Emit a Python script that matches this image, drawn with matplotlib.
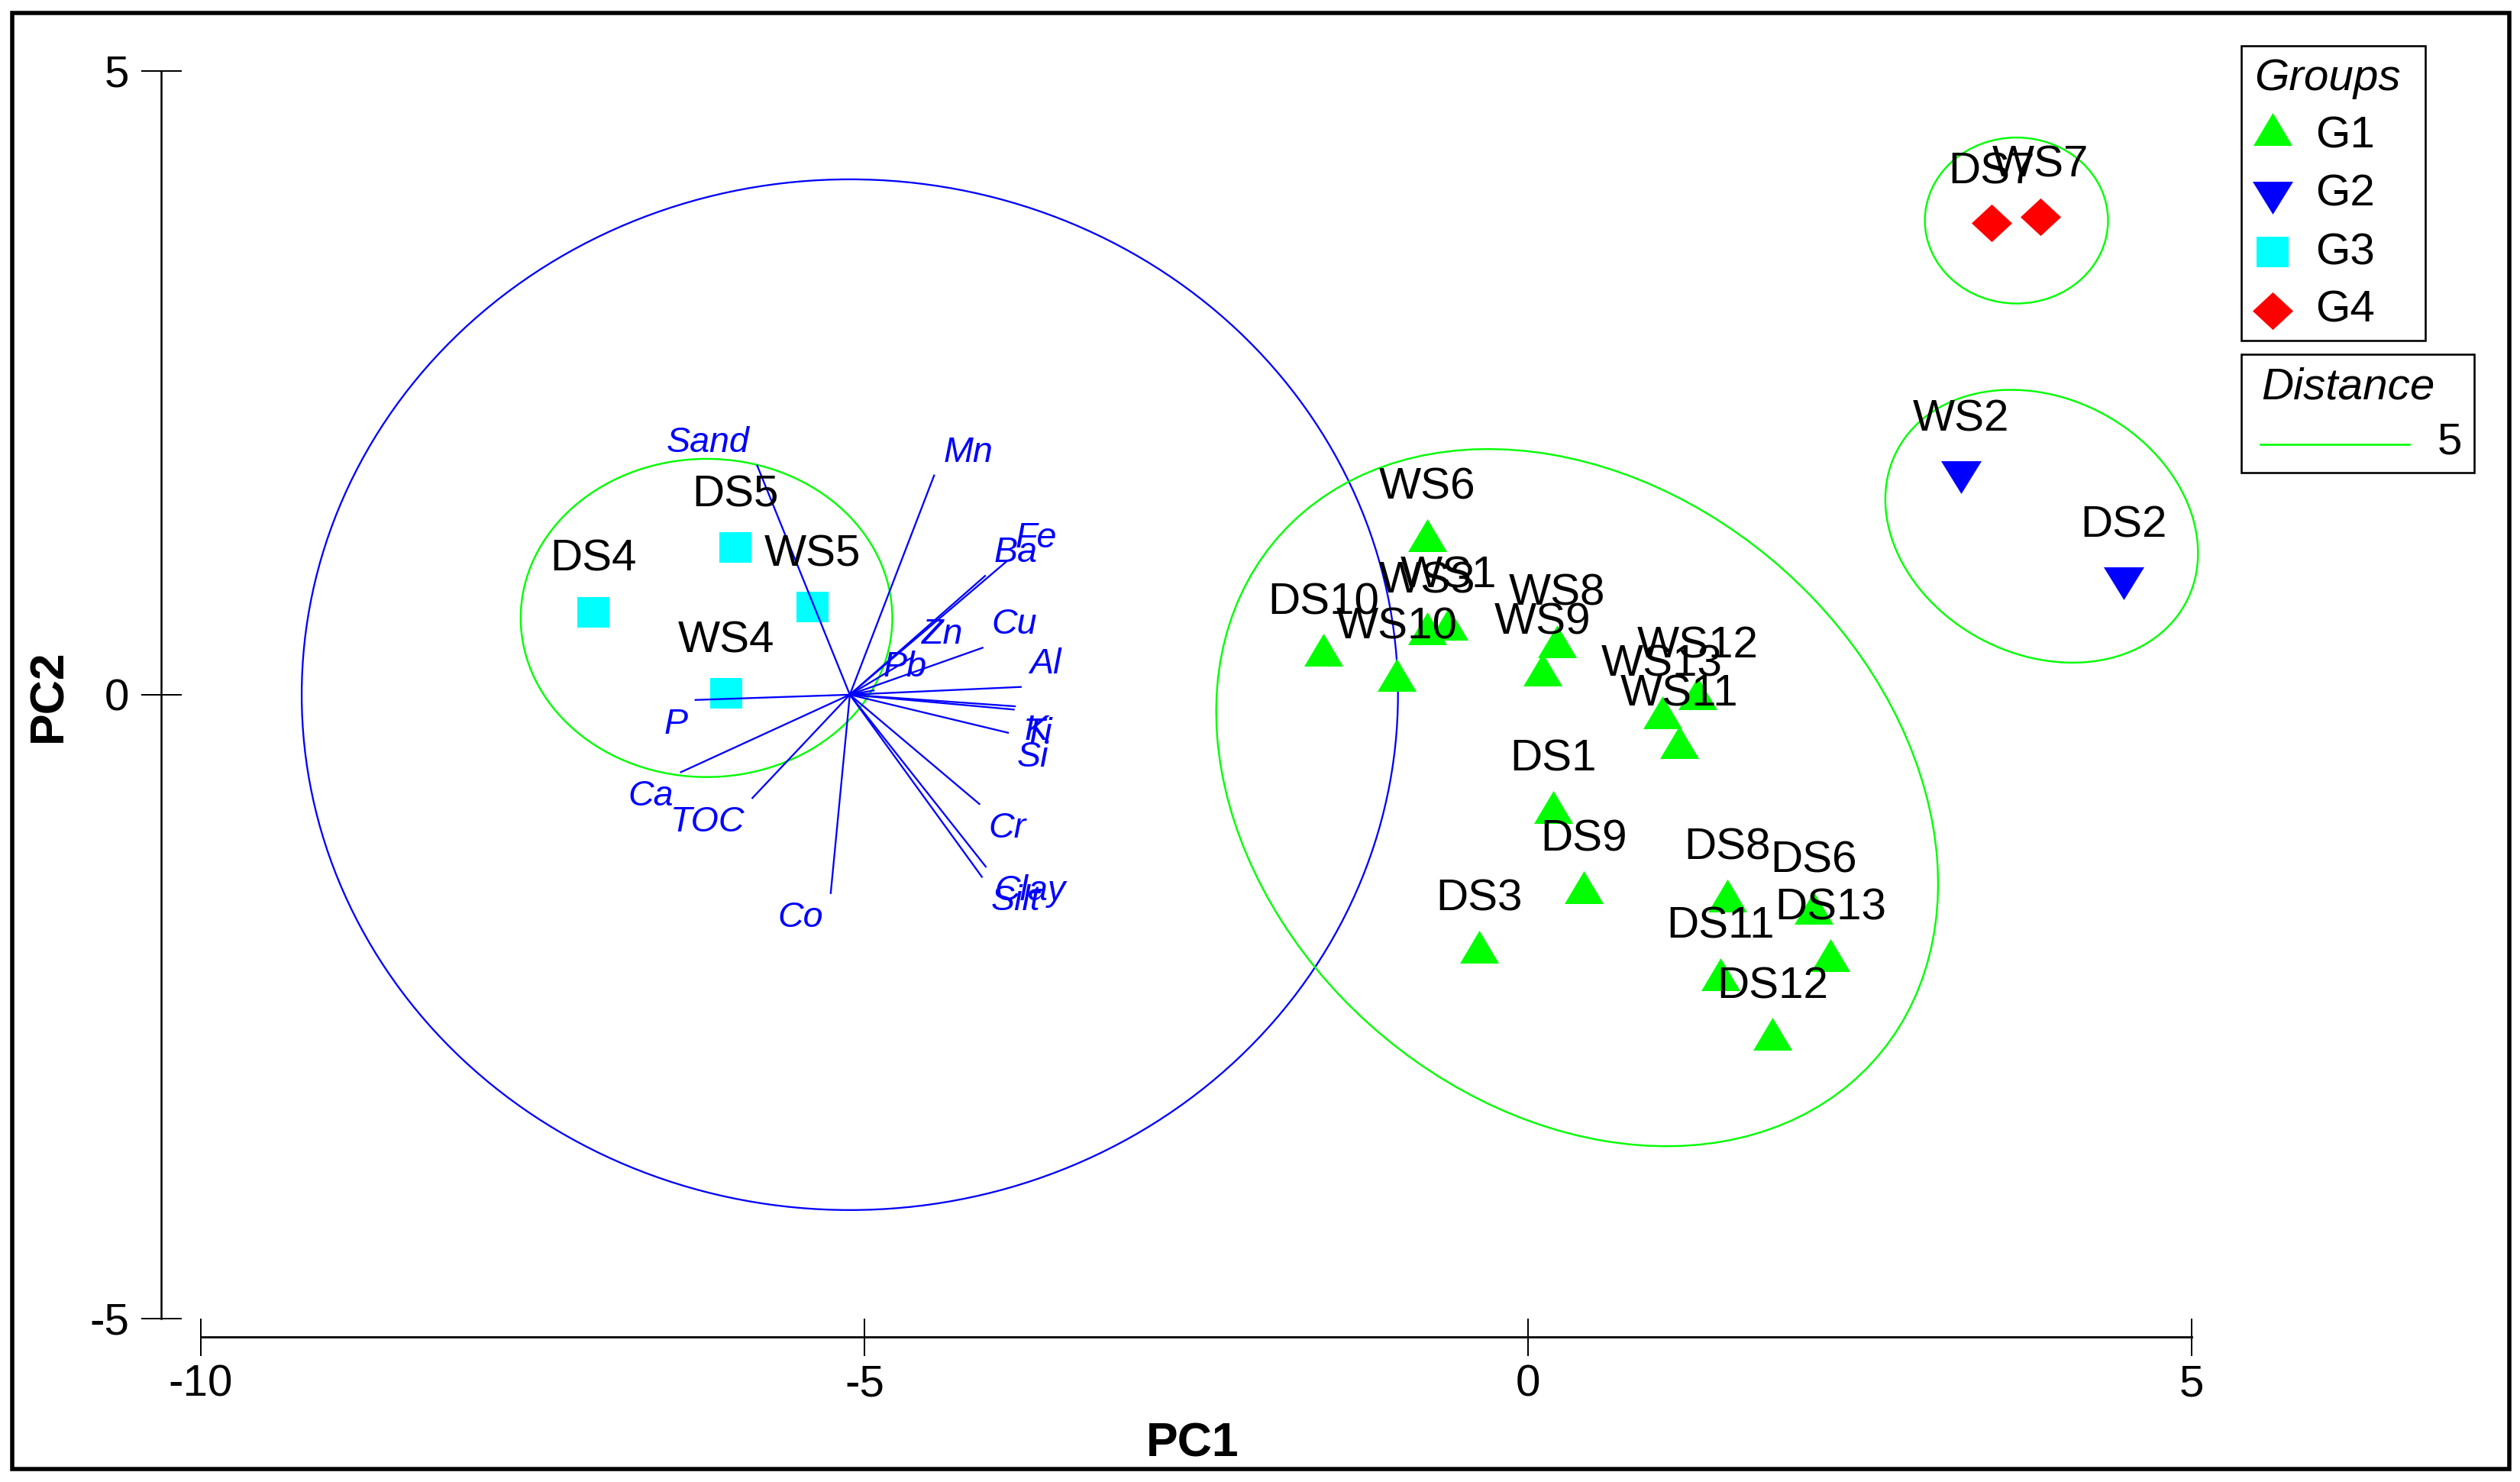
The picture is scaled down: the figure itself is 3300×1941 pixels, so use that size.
import matplotlib
matplotlib.use("Agg")
import matplotlib.pyplot as plt
from matplotlib.patches import Ellipse, Rectangle

plt.rcParams['font.family'] = ['Liberation Sans', 'DejaVu Sans']
plt.rcParams['axes.unicode_minus'] = False

# ---------------- data ----------------
sample_names = ['WS6', 'WS3', 'WS1', 'DS10', 'WS10', 'WS8', 'WS9', 'WS12', 'WS13', 'WS11',
                'DS1', 'DS9', 'DS3', 'DS8', 'DS6', 'DS13', 'DS11', 'DS12',
                'WS2', 'DS2',
                'DS4', 'DS5', 'WS5', 'WS4',
                'DS7', 'WS7']
sample_groups = ['G1'] * 18 + ['G2'] * 2 + ['G3'] * 4 + ['G4'] * 2
pc1 = [-0.76, -0.76, -0.60, -1.54, -0.99, 0.22, 0.11, 1.28, 1.01, 1.14,
       0.19, 0.42, -0.37, 1.50, 2.15, 2.28, 1.45, 1.84,
       3.26, 4.49,
       -7.04, -5.97, -5.39, -6.04,
       3.49, 3.86]
pc2 = [1.28, 0.53, 0.57, 0.36, 0.16, 0.43, 0.20, 0.01, -0.14, -0.38,
       -0.90, -1.54, -2.02, -1.61, -1.71, -2.09, -2.24, -2.72,
       1.74, 0.89,
       0.66, 1.18, 0.70, 0.01,
       3.78, 3.83]

groups = ['G1', 'G2', 'G3', 'G4']
group_colors = ['#00ff00', '#0000ff', '#00ffff', '#ff0000']

vector_names = ['Sand', 'Mn', 'Fe', 'Ba', 'Zn', 'Pb', 'Cu', 'Al', 'K', 'Ti', 'Si',
                'Cr', 'Clay', 'Silt', 'Co', 'TOC', 'Ca', 'P']
vector_pc1 = [-0.698, 0.635, 1.180, 1.019, 0.47, 0.18, 1.00, 1.288, 1.244, 1.235, 1.192,
              0.976, 1.024, 0.995, -0.144, -0.734, -1.273, -1.163]
vector_pc2 = [1.836, 1.757, 1.067, 0.952, 0.30, 0.034, 0.376, 0.062, -0.093, -0.119, -0.305,
              -0.876, -1.378, -1.460, -1.590, -0.828, -0.621, -0.042]
vector_origin = (-5.11, 0.0)
circle_radius = 4.13

contour_groups = ['G1', 'G2', 'G3', 'G4']
contour_cx = [0.37, 3.87, -6.19, 3.68]
contour_cy = [-0.825, 1.35, 0.615, 3.80]
contour_w = [6.16, 2.50, 2.80, 1.38]
contour_h = [4.78, 2.02, 2.55, 1.33]
contour_angle = [-48.1, -34.6, 0.0, 0.0]
distance_level = 5

x_ticks = [-10, -5, 0, 5]
y_ticks = [-5, 0, 5]

# ---------------- styling ----------------
DPI = 300
W, H = 3300, 1941


def px(v):
    return v * 72.0 / DPI


tri_up = [(-1, -0.843), (1, -0.843), (0, 0.843)]
tri_down = [(-1, 0.81), (1, 0.81), (0, -0.81)]
square = [(-1, -0.95), (1, -0.95), (1, 0.95), (-1, 0.95)]
diamond = [(0, 0.93), (1, 0), (0, -0.93), (-1, 0)]
marker_shape = {'G1': tri_up, 'G2': tri_down, 'G3': square, 'G4': diamond}
marker_size = {'G1': px(51), 'G2': px(53), 'G3': px(42), 'G4': px(53)}
label_off = {'G1': px(47), 'G2': px(61), 'G3': px(54), 'G4': px(52)}
color_of = dict(zip(groups, group_colors))

fig = plt.figure(figsize=(W / DPI, H / DPI), dpi=DPI)
fig.patch.set_facecolor('white')

# overlay axes in pixel coordinates (legend, frame)
lax = fig.add_axes([0, 0, 1, 1], zorder=5)
lax.set_xlim(0, W)
lax.set_ylim(H, 0)
lax.axis('off')
lax.patch.set_visible(False)

ax = fig.add_axes([263 / W, 1 - 1727 / H, 2607 / W, (1727 - 92.7) / H], zorder=2)
ax.patch.set_visible(False)
ax.set_xlim(-10, 5)
ax.set_ylim(-5, 5)
for s in ['top', 'right']:
    ax.spines[s].set_visible(False)
ax.spines['left'].set_position(('outward', px(52)))
ax.spines['bottom'].set_position(('outward', px(24)))
ax.spines['left'].set_bounds(-5, 5)
ax.spines['bottom'].set_bounds(-10, 5)
ax.spines['left'].set_linewidth(px(2.5))
ax.spines['bottom'].set_linewidth(px(2.8))
ax.set_xticks(x_ticks)
ax.set_yticks(y_ticks)
ax.tick_params(axis='y', direction='inout', length=px(53), width=px(2), pad=3.75, labelsize=14)
ax.tick_params(axis='x', direction='inout', length=px(49), width=px(2), pad=2.75, labelsize=14)

ax.set_xlabel('PC1', fontsize=15, fontweight='bold')
ax.set_ylabel('PC2', fontsize=15, fontweight='bold')
ax.xaxis.set_label_coords(1562, 1862, transform=lax.transData)
ax.yaxis.set_label_coords(93, 911, transform=lax.transData)

# correlation circle
ax.add_patch(Ellipse(vector_origin, 2 * circle_radius, 2 * circle_radius, fill=False,
                     edgecolor='#0000ff', lw=px(2.3), clip_on=False, zorder=2))

# group contours
for g, cx, cy, w, h, a in zip(contour_groups, contour_cx, contour_cy, contour_w, contour_h, contour_angle):
    ax.add_patch(Ellipse((cx, cy), w, h, angle=a, fill=False, edgecolor='#00ff00',
                         lw=px(2.4), clip_on=False, zorder=2))

# samples
for g in groups:
    xs = [x for x, gg in zip(pc1, sample_groups) if gg == g]
    ys = [y for y, gg in zip(pc2, sample_groups) if gg == g]
    ax.plot(xs, ys, linestyle='none', marker=marker_shape[g], markersize=marker_size[g],
            color=color_of[g], markeredgewidth=0, clip_on=False, zorder=3)

for name, g, x, y in zip(sample_names, sample_groups, pc1, pc2):
    ax.annotate(name, (x, y), xytext=(0, label_off[g]), textcoords='offset points',
                ha='center', va='baseline', fontsize=14, color='black', zorder=6,
                annotation_clip=False)

# vectors
ox, oy = vector_origin
for name, dx, dy in zip(vector_names, vector_pc1, vector_pc2):
    ex, ey = ox + dx, oy + dy
    ax.plot([ox, ex], [oy, ey], color='#0000ff', lw=px(2.3), zorder=4, clip_on=False)
    if dx >= 0:
        ha, xo = 'left', px(12)
    else:
        ha, xo = 'right', -px(10)
    if dy >= 0:
        va, yo = 'baseline', px(18)
    else:
        va, yo = 'top', -px(10)
    ax.annotate(name, (ex, ey), xytext=(xo, yo), textcoords='offset points', ha=ha, va=va,
                fontsize=11.2, style='italic', color='#0000ff', zorder=6, annotation_clip=False)

# ---------------- legend (pixel layout) ----------------
lax.add_patch(Rectangle((2935, 60), 240.7, 386.4, fill=False, edgecolor='black', lw=px(2.6)))
lax.text(2952, 118.5, 'Groups', fontsize=14, style='italic', ha='left', va='baseline')
leg_marker_y = [169.4, 259.0, 329.7, 406.6]
leg_text_y = [193.0, 269.6, 346.2, 421.6]
for g, my, ty in zip(groups, leg_marker_y, leg_text_y):
    lax.plot([2976], [my], linestyle='none', marker=marker_shape[g], markersize=marker_size[g],
             color=color_of[g], markeredgewidth=0)
    lax.text(3031.7, ty, g, fontsize=14, ha='left', va='baseline')

lax.add_patch(Rectangle((2935, 464), 305, 154.6, fill=False, edgecolor='black', lw=px(2.6)))
lax.text(2961.7, 522.2, 'Distance', fontsize=14, style='italic', ha='left', va='baseline')
lax.plot([2960, 3155], [581.5, 581.5], color='#00ff00', lw=px(2.6))
lax.text(3191.7, 594.9, str(distance_level), fontsize=14, ha='left', va='baseline')

# outer frame
lax.add_patch(Rectangle((15.5, 16.5), 3270, 1907, fill=False, edgecolor='black', lw=px(5.5)))

fig.savefig('out.png', dpi=DPI, facecolor='white')
